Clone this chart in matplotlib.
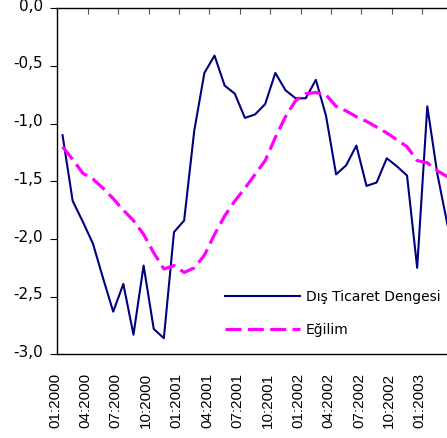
import numpy as np
import matplotlib
matplotlib.use('Agg')
import matplotlib.pyplot as plt
import matplotlib.transforms as mtransforms

# monthly values, 01:2000 .. 03:2003
dis_ticaret = [-1.10, -1.67, -1.85, -2.04, -2.34, -2.63, -2.39, -2.83, -2.23, -2.78,
               -2.86, -1.94, -1.84, -1.06, -0.56, -0.41, -0.67, -0.74, -0.95, -0.92,
               -0.83, -0.56, -0.71, -0.78, -0.78, -0.62, -0.93, -1.44, -1.36, -1.19,
               -1.54, -1.51, -1.30, -1.37, -1.45, -2.25, -0.85, -1.44, -1.88]
egilim = [-1.20, -1.31, -1.43, -1.48, -1.56, -1.65, -1.75, -1.84, -1.96, -2.12,
          -2.26, -2.23, -2.29, -2.25, -2.14, -1.96, -1.80, -1.67, -1.56, -1.44,
          -1.32, -1.12, -0.94, -0.80, -0.74, -0.73, -0.75, -0.85, -0.89, -0.94,
          -0.98, -1.03, -1.08, -1.14, -1.20, -1.32, -1.34, -1.41, -1.46]
tick_labels = ['01:2000', '04:2000', '07:2000', '10:2000', '01:2001', '04:2001',
               '07:2001', '10:2001', '01:2002', '04:2002', '07:2002', '10:2002',
               '01:2003']
y_ticks = [0.0, -0.5, -1.0, -1.5, -2.0, -2.5, -3.0]

x = np.arange(len(dis_ticaret))

fig = plt.figure(figsize=(4.47, 4.38), dpi=100)
ax = fig.add_axes([0.1286, 0.191, 0.884, 0.79])

ax.plot(x, dis_ticaret, color='#000080', lw=1.5, label='Dış Ticaret Dengesi')
ax.plot(x, egilim, color='#FF00FF', lw=2.3, dashes=(5, 2.0), label='Eğilim')

ax.set_xlim(-0.5, len(x) - 0.5)
ax.set_ylim(-3.0, 0.0)

ax.set_yticks(y_ticks)
ax.set_yticklabels([f'{v:.1f}'.replace('.', ',') for v in y_ticks],
                   fontsize=11, family='DejaVu Sans')
ax.tick_params(axis='y', direction='out', length=5.4, width=0.8, pad=5)
# labels sit a few pixels above their ticks in the original
up = mtransforms.ScaledTranslation(0, 3.5 / 100, fig.dpi_scale_trans)
for lbl in ax.get_yticklabels():
    lbl.set_transform(lbl.get_transform() + up)

ax.set_xticks(np.arange(len(tick_labels)) * 3 - 0.5)
ax.set_xticklabels(tick_labels, rotation=90, fontsize=11, family='Liberation Sans',
                   va='top', ha='center')
ax.tick_params(axis='x', top=True, bottom=False, direction='in', length=4.3,
               width=0.8, color='#555555', pad=13.5)
offset = mtransforms.ScaledTranslation(-2.5 / 100, 0, fig.dpi_scale_trans)
for lbl in ax.get_xticklabels():
    lbl.set_transform(lbl.get_transform() + offset)

for side in ['left', 'top', 'bottom']:
    ax.spines[side].set_linewidth(1.0)
ax.spines['right'].set_visible(False)

ax.legend(loc='upper left', bbox_to_anchor=(0.503, 0.338),
          bbox_transform=fig.transFigure, frameon=False,
          handlelength=5.4, handletextpad=0.45, labelspacing=1.37,
          borderpad=0, borderaxespad=0, prop={'family': 'DejaVu Sans', 'size': 10})

fig.savefig('out.png', dpi=100)
